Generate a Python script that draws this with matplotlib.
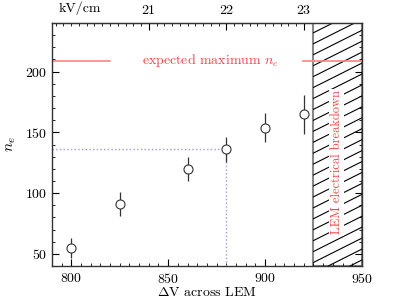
import numpy as np
import matplotlib
matplotlib.use('Agg')
import matplotlib.pyplot as plt
from matplotlib.patches import Rectangle
from matplotlib.ticker import MultipleLocator

plt.rcParams['font.family'] = 'serif'
plt.rcParams['font.serif'] = ['cmr10']
plt.rcParams['mathtext.fontset'] = 'cm'
plt.rcParams['axes.formatter.use_mathtext'] = True
plt.rcParams['font.size'] = 10

# data
voltage = [800, 825, 860, 880, 900, 920]
n_e = [55, 91, 120, 136, 154, 165]
n_e_err = [8, 10, 10, 10.5, 12, 16]
expected_max = 209
breakdown_v = 925
ref_v, ref_ne = 880, 136
field_ticks = [21, 22, 23]
volts_per_kvcm = 40.0

fig = plt.figure(figsize=(3.99, 2.99), dpi=100)
ax = fig.add_axes([0.130, 0.110, 0.777, 0.813])
ax.set_xlim(790, 950)
ax.set_ylim(40, 240)

# breakdown region with hatch
rect = Rectangle((breakdown_v, 40), 950 - breakdown_v, 200, facecolor='white',
                 edgecolor='#888888', linewidth=1.5, zorder=1)
ax.add_patch(rect)
slope = 0.8
for off in np.arange(-200, 240, 9.0):
    xs = np.array([breakdown_v, 950])
    ys = off + slope * (xs - breakdown_v)
    ln, = ax.plot(xs, ys, color='black', lw=0.8, zorder=1.5)
    ln.set_clip_path(rect)

# expected maximum line
ax.axhline(expected_max, xmin=0, xmax=0.187, color='#ff8080', lw=1.2, zorder=2)
ax.axhline(expected_max, xmin=0.81, xmax=1, color='#ff8080', lw=1.2, zorder=2)
ax.text(872, expected_max, r'expected maximum $n_e$', color='#ff4040',
        ha='center', va='center', fontsize=10)

ax.text(937, 125.5, 'LEM electrical breakdown', color='#ff4040', rotation=90,
        ha='center', va='center', fontsize=9, zorder=3,
        bbox=dict(facecolor='white', edgecolor='none', pad=1))

# dotted guide lines
ax.plot([790, ref_v], [ref_ne, ref_ne], ls=':', color='#9999ee', lw=1, zorder=2)
ax.plot([ref_v, ref_v], [40, ref_ne], ls=':', color='#9999ee', lw=1, zorder=2)

ax.errorbar(voltage, n_e, yerr=n_e_err, fmt='o', mfc='white', mec='#333333',
            ecolor='#333333', ms=6.5, mew=0.8, elinewidth=0.9, zorder=4)

ax.xaxis.set_major_locator(MultipleLocator(50))
ax.xaxis.set_minor_locator(MultipleLocator(5))
ax.yaxis.set_major_locator(MultipleLocator(50))
ax.yaxis.set_minor_locator(MultipleLocator(10))
ax.tick_params(which='both', direction='in', right=True, top=False)
ax.tick_params(which='major', length=5)
ax.tick_params(which='minor', length=2.5)
ax.tick_params(axis='x', pad=4)
for s in ax.spines.values():
    s.set_linewidth(1.0)
    s.set_color('#333333')

ax.set_xlabel(r'$\Delta$V across LEM')
ax.xaxis.set_label_coords(0.5, -0.08)
ax.set_ylabel(r'$n_e$', fontsize=11)
ax.yaxis.set_label_coords(-0.11, 0.5)

top = ax.secondary_xaxis('top', functions=(lambda v: v / volts_per_kvcm,
                                           lambda f: f * volts_per_kvcm))
top.set_xticks(field_ticks)
top.xaxis.set_minor_locator(MultipleLocator(0.1))
top.tick_params(which='both', direction='in')
top.tick_params(which='major', length=5, pad=4)
top.tick_params(which='minor', length=2.5)
ax.text(0.09, 1.035, 'kV/cm', transform=ax.transAxes, ha='center', va='bottom')

fig.savefig('out.png', dpi=100)
